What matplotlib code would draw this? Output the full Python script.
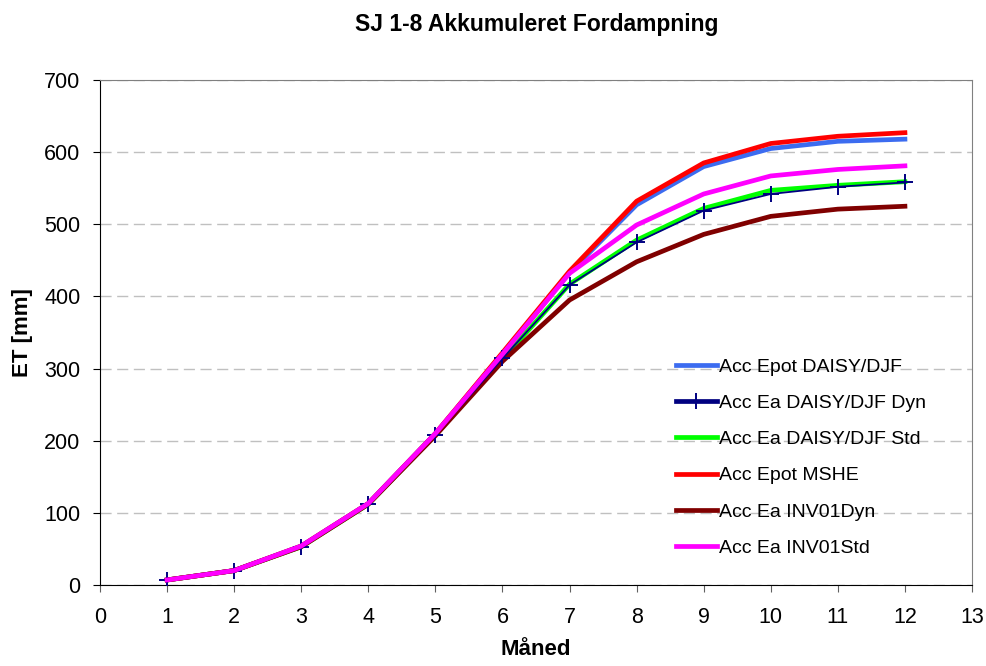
import matplotlib
matplotlib.use("Agg")
import matplotlib.pyplot as plt
from matplotlib.lines import Line2D

months = [1, 2, 3, 4, 5, 6, 7, 8, 9, 10, 11, 12]
epot_daisy = [7, 20, 54, 113, 210, 320, 433, 527, 580, 605, 615, 618]
ea_daisy_dyn = [7, 20, 53, 112, 208, 314, 416, 475, 519, 542, 552, 558]
ea_daisy_std = [7, 20, 53, 112, 208, 313, 417, 478, 522, 547, 554, 559]
epot_mshe = [7, 20, 54, 113, 210, 322, 435, 532, 585, 612, 622, 627]
ea_inv_dyn = [7, 20, 53, 112, 207, 310, 395, 448, 486, 511, 521, 525]
ea_inv_std = [7, 20, 54, 113, 210, 320, 432, 499, 542, 567, 576, 581]

plt.rcParams['font.family'] = ['Liberation Sans', 'DejaVu Sans']

fig = plt.figure(figsize=(9.86, 6.66), dpi=100)
ax = fig.add_axes([100/986, 1-585/666, 872/986, 505/666])

lw = 3.4
ax.plot(months, epot_daisy, color='#3c6cf0', lw=lw, label='Acc Epot DAISY/DJF', zorder=3)
ax.plot(months, ea_daisy_std, color='#00ff00', lw=lw, label='Acc Ea DAISY/DJF Std', zorder=3)
ax.plot(months, ea_daisy_dyn, color='#000080', lw=1.3, marker='+', ms=11, mew=1.4,
        label='Acc Ea DAISY/DJF Dyn', zorder=4)
ax.plot(months, epot_mshe, color='#ff0000', lw=lw, label='Acc Epot MSHE', zorder=3)
ax.plot(months, ea_inv_dyn, color='#800000', lw=lw, label='Acc Ea INV01Dyn', zorder=3)
ax.plot(months, ea_inv_std, color='#ff00ff', lw=lw, label='Acc Ea INV01Std', zorder=5)

ax.set_xlim(0, 13)
ax.set_ylim(0, 700)
ax.set_xticks(range(0, 14))
ax.set_yticks(range(0, 701, 100))
ax.yaxis.grid(True, color='#c0c0c0', linestyle=(0, (8, 4)), lw=1)
ax.set_axisbelow(True)
ax.tick_params(axis='y', labelsize=15.5, direction='out', length=5, color='black', pad=9)
ax.tick_params(axis='x', labelsize=15.5, direction='out', length=5, color='#606060', pad=11)
for s in ['top', 'right']:
    ax.spines[s].set_color('#808080')
for s in ['left', 'bottom']:
    ax.spines[s].set_color('black')

ax.set_xlabel('Måned', fontsize=16, fontweight='bold', labelpad=8)
ax.set_ylabel('ET [mm]', fontsize=16, fontweight='bold', labelpad=8)
fig.text(537/986, 1-25/666, 'SJ 1-8 Akkumuleret Fordampning', ha='center', va='center',
         fontsize=16.5, fontweight='bold')

handles = [
    Line2D([], [], color='#3c6cf0', lw=lw),
    Line2D([], [], color='#000080', lw=lw, marker='+', ms=11, mew=1.4),
    Line2D([], [], color='#00ff00', lw=lw),
    Line2D([], [], color='#ff0000', lw=lw),
    Line2D([], [], color='#800000', lw=lw),
    Line2D([], [], color='#ff00ff', lw=lw),
]
labels = ['Acc Epot DAISY/DJF', 'Acc Ea DAISY/DJF Dyn', 'Acc Ea DAISY/DJF Std',
          'Acc Epot MSHE', 'Acc Ea INV01Dyn', 'Acc Ea INV01Std']
ax.legend(handles, labels, loc='upper left', bbox_to_anchor=(676/986, 1-358/666),
          bbox_transform=fig.transFigure, frameon=False, fontsize=14,
          handlelength=2.1, handletextpad=0.1, labelspacing=0.96, borderpad=0,
          borderaxespad=0)

fig.savefig('out.png', dpi=100)
